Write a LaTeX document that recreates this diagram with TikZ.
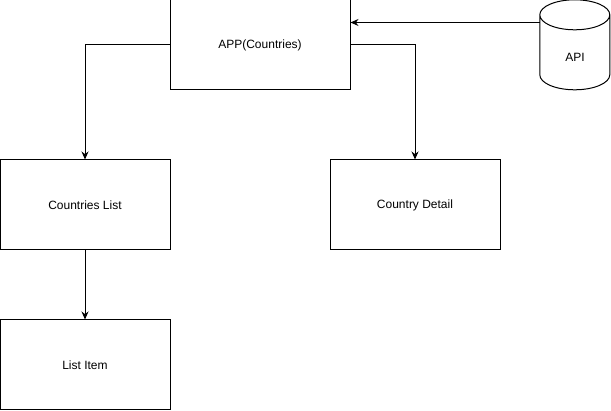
\documentclass[tikz,border=0pt]{standalone}
\usepackage{fontspec}
\setmainfont{Liberation Sans}
\usetikzlibrary{arrows.meta}

\tikzset{
  comp/.style={draw, line width=1pt, minimum width=170pt, minimum height=90pt,
               inner sep=0pt, font=\fontsize{12}{14}\selectfont},
  link/.style={line width=1pt, -{Stealth[length=8pt,width=7pt]}}
}

\begin{document}
\begin{tikzpicture}[x=1pt, y=1pt]
  \useasboundingbox (0,0) rectangle (611,411);

  \node[comp, minimum width=180pt] (app)     at (260,366) {APP(Countries)};
  \node[comp]                      (clist)   at (85,206)  {Countries List};
  \node[comp]                      (cdetail) at (415,206) {Country Detail};
  \node[comp]                      (litem)   at (85,46)   {List Item};

  \node[minimum width=70pt, minimum height=90pt, inner sep=0pt,
        label={[font=\fontsize{12}{14}\selectfont, yshift=-12pt]center:API}]
        (api) at (575,366) {};
  \draw[line width=1pt] (api.north west) ++(0,-15) -- ++(0,-60)
        arc[start angle=180, end angle=360, x radius=35, y radius=15]
        -- ++(0,60)
        arc[start angle=0, end angle=180, x radius=35, y radius=15]
        arc[start angle=180, end angle=360, x radius=35, y radius=15];

  \draw[link] ([yshift=22.5pt]api.west) -- ([yshift=22.5pt]app.east);
  \draw[link] (app.west) -| (clist.north);
  \draw[link] (app.east) -| (cdetail.north);
  \draw[link] (clist.south) -- (litem.north);

\end{tikzpicture}
\end{document}
